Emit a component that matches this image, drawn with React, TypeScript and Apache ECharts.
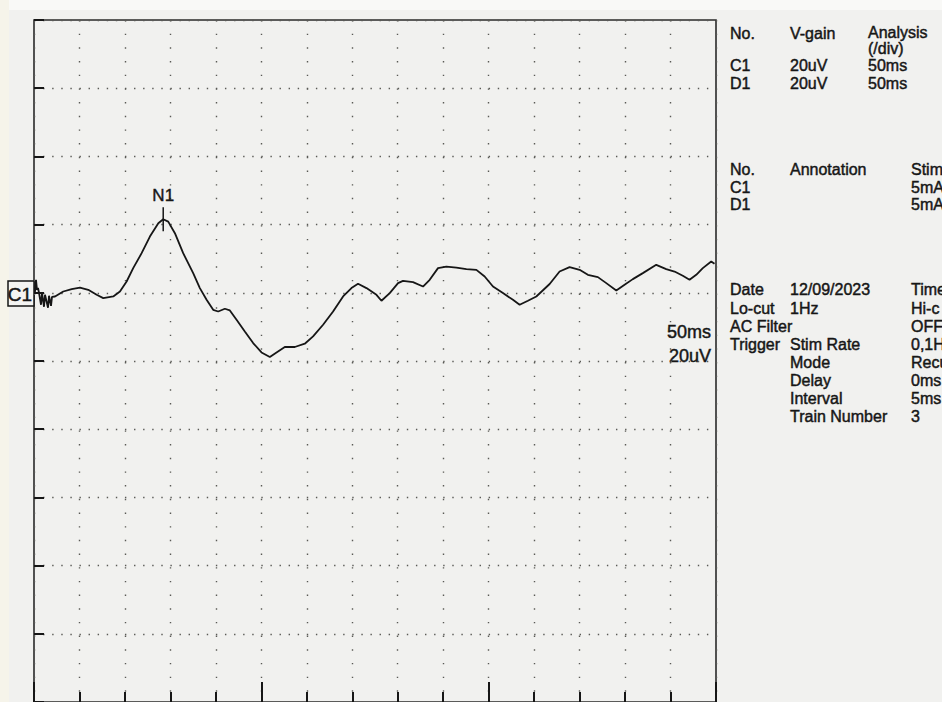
import React, { useEffect, useRef } from "react";
import * as echarts from "echarts";

// Trace C1: time (ms, 10 ms per grid column) and amplitude (uV, 20 uV per division)
const timeMs = [
  0.22, 0.44, 0.66, 0.88, 1.1, 1.54, 1.76, 2.2, 2.42, 3.08, 3.3, 3.74, 3.96, 4.62,
  6.44, 8.29, 10.11, 11.93, 13.78, 15.23, 17.43, 18.9, 20.37, 21.82, 23.67, 25.49,
  27.34, 28.42, 29.52, 30.99, 32.81, 35.01, 36.48, 37.96, 39.41, 40.51, 41.98,
  43.08, 44.55, 46.37, 48.2, 50.04, 51.87, 53.34, 55.16, 57.36, 59.56, 61.38,
  63.58, 65.78, 67.98, 69.82, 71.27, 73.12, 75.32, 76.42, 78.24, 80.07, 81.16,
  83.36, 85.56, 87.03, 88.86, 90.7, 92.9, 95.1, 97.3, 99.12, 100.95, 103.14,
  105.34, 106.81, 108.64, 110.48, 113.41, 115.6, 117.8, 120.0, 121.82, 124.02,
  125.87, 128.07, 129.89, 131.71, 133.91, 136.86, 139.05, 140.88, 142.7, 144.18,
  145.65, 147.1, 148.95, 149.67,
];
const amplitudeUv = [
  0.29, 3.81, 0.88, 1.46, 0, -3.51, 0, -4.1, -0.59, -4.39, -0.88, -3.81, -1.17, -1.08,
  0.38, 1.08, 1.55, 0.88, -0.59, -1.55, -1.08, 0.38, 3.31, 7.23, 11.62, 16.48,
  20.41, 21.58, 20.88, 17.48, 11.62, 5.77, 1.38, -2.05, -4.98, -5.48, -4.68,
  -5.18, -7.91, -11.33, -14.73, -17.49, -18.83, -17.49, -15.9, -15.9, -14.93, -12.8,
  -9.38, -5.48, -1.08, 1.38, 2.64, 1.38, -0.59, -2.34, -0.09, 2.84, 3.51,
  3.13, 1.84, 3.81, 7.23, 7.7, 7.41, 6.94, 6.73, 4.77, 1.84, -0.09,
  -2.05, -3.51, -2.34, -1.08, 2.58, 6.24, 7.52, 6.73, 5.27, 4.6,
  2.84, 0.67, 2.34, 4.01, 5.77, 8.2, 6.94, 6.24, 4.98, 3.81,
  5.27, 7.23, 9.16, 8.49,
];

// Peak marker
const peakNames = ["N1"];
const peakTimeMs = [28.42];
const peakAmpUv = [21.58];

// Axis ranges
const xRange = [0, 150];
const xMajorStep = 50;
const yRange = [-120, 80];
const yStep = 20;

// Right-hand info panel texts: [column, row, text]
const infoCols = [730, 790, 868, 911];
const infoBlock1 = [
  [0, 33, "No."], [1, 33, "V-gain"], [2, 32, "Analysis"],
  [2, 48, "(/div)"],
  [0, 65, "C1"], [1, 65, "20uV"], [2, 65, "50ms"],
  [0, 83, "D1"], [1, 83, "20uV"], [2, 83, "50ms"],
];
const infoBlock2 = [
  [0, 169, "No."], [1, 169, "Annotation"], [3, 169, "Stim"],
  [0, 187, "C1"], [3, 187, "5mA"],
  [0, 204, "D1"], [3, 204, "5mA"],
];
const infoBlock3 = [
  [0, 289, "Date"], [1, 289, "12/09/2023"], [3, 289, "Time"],
  [0, 308, "Lo-cut"], [1, 308, "1Hz"], [3, 308, "Hi-c"],
  [0, 326, "AC Filter"], [3, 326, "OFF"],
  [0, 344, "Trigger"], [1, 344, "Stim Rate"], [3, 344, "0,1H"],
  [1, 362, "Mode"], [3, 362, "Recu"],
  [1, 380, "Delay"], [3, 380, "0ms"],
  [1, 398, "Interval"], [3, 398, "5ms"],
  [1, 416, "Train Number"], [3, 416, "3"],
];
const scaleTexts = ["50ms", "20uV"];
const channelLabel = "C1";

const INK = "#161616";
const DOT = "#5a5a56";
const FONT = "'Liberation Sans', Arial, sans-serif";

export default function App() {
  const ref = useRef<HTMLDivElement>(null);

  useEffect(() => {
    if (!ref.current) return;
    const chart = echarts.init(ref.current, undefined, { renderer: "svg" });

    const traceData = timeMs.map((t, i) => [t, amplitudeUv[i]]);
    const peaks = peakNames.map((n, i) => ({ name: n, coord: [peakTimeMs[i], peakAmpUv[i]] }));

    const textStyle = (text: string, size: number, align = "left") => ({
      text,
      fill: INK,
      stroke: INK,
      lineWidth: 0.45,
      font: `${size}px ${FONT}`,
      align,
      verticalAlign: "middle",
    });

    const infoTexts = [...infoBlock1, ...infoBlock2, ...infoBlock3].map((r) => ({
      type: "text",
      x: infoCols[r[0] as number],
      y: r[1] as number,
      silent: true,
      style: textStyle(r[2] as string, 16),
    }));

    const colW = 682 / 15;
    const dotH = 684 / 50;

    chart.setOption({
      animation: false,
      backgroundColor: "#f1f1ef",
      grid: {
        left: 34,
        top: 20,
        width: 682,
        height: 684,
        show: true,
        borderColor: "#2a2a2a",
        borderWidth: 1.6,
        backgroundColor: "transparent",
      },
      xAxis: {
        type: "value",
        min: xRange[0],
        max: xRange[1],
        interval: xMajorStep,
        axisLine: { show: false, onZero: false },
        axisLabel: { show: false },
        axisTick: { show: true, inside: true, length: 20, lineStyle: { color: INK, width: 2 } },
        minorTick: { show: true, splitNumber: 5, length: 10, lineStyle: { color: INK, width: 2 } },
        splitLine: {
          show: true,
          lineStyle: { color: DOT, width: 1.4, type: [1.4, dotH - 1.4] },
        },
        minorSplitLine: {
          show: true,
          lineStyle: { color: DOT, width: 1.4, type: [1.4, dotH - 1.4] },
        },
      },
      yAxis: {
        type: "value",
        min: yRange[0],
        max: yRange[1],
        interval: yStep,
        axisLine: { show: false, onZero: false },
        axisLabel: { show: false },
        axisTick: { show: true, inside: true, length: 10, lineStyle: { color: INK, width: 2 } },
        splitLine: {
          show: true,
          lineStyle: { color: DOT, width: 1.4, type: [1.4, colW / 5 - 1.4] },
        },
      },
      series: [
        {
          type: "line",
          name: channelLabel,
          data: traceData,
          showSymbol: false,
          smooth: false,
          lineStyle: { color: INK, width: 1.8 },
          z: 5,
          markPoint: {
            silent: true,
            symbol: "rect",
            symbolSize: [1.5, 24],
            itemStyle: { color: INK },
            label: {
              show: true,
              position: "top",
              distance: 3,
              formatter: "{b}",
              color: INK,
              textBorderColor: INK,
              textBorderWidth: 0.4,
              fontSize: 17,
              fontFamily: FONT,
            },
            data: peaks,
          },
        },
      ],
      graphic: [
        { type: "rect", z: -10, silent: true, shape: { x: 0, y: 0, width: 942, height: 10 }, style: { fill: "#f9f9f7" } },
        { type: "rect", z: -10, silent: true, shape: { x: 0, y: 0, width: 9, height: 702 }, style: { fill: "#f6f4ea" } },
        {
          type: "rect",
          silent: true,
          shape: { x: 8, y: 281, width: 26, height: 25 },
          style: { fill: "#f4f4f2", stroke: INK, lineWidth: 1.5 },
        },
        {
          type: "text",
          silent: true,
          x: 32,
          y: 294,
          style: textStyle(channelLabel, 19, "right"),
        },
        {
          type: "text",
          silent: true,
          x: 711,
          y: 332,
          style: textStyle(scaleTexts[0], 18, "right"),
        },
        {
          type: "text",
          silent: true,
          x: 711,
          y: 356,
          style: textStyle(scaleTexts[1], 18, "right"),
        },
        ...infoTexts,
      ],
    });

    return () => chart.dispose();
  }, []);

  return (
    <div
      ref={ref}
      style={{ position: "absolute", left: 0, top: 0, width: 942, height: 702, overflow: "hidden" }}
    />
  );
}
